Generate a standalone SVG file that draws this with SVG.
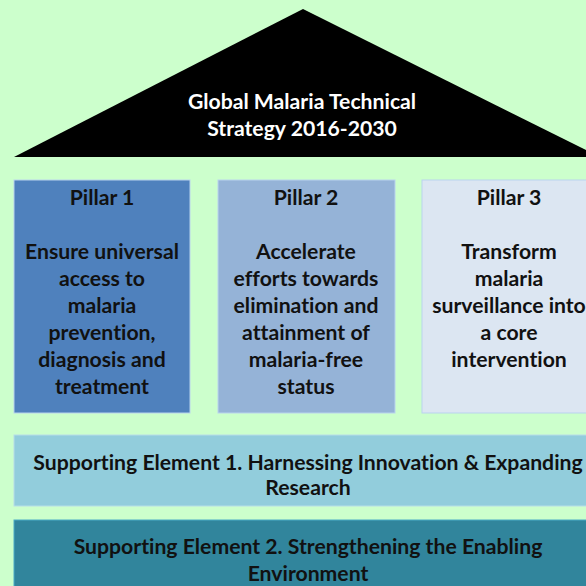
<svg xmlns="http://www.w3.org/2000/svg" width="586" height="586" viewBox="0 0 586 586">
<style>
text{font-family:Lato,"Open Sans","Liberation Sans",sans-serif;font-weight:bold;font-size:21.2px;text-anchor:middle;fill:#111;font-variant-ligatures:none}
.w{fill:#fff}
.box{stroke:#b9d3ee;stroke-width:1}
</style>
<rect width="586" height="586" fill="#ccffcc"/>
<g id="roof">
<polygon points="303,9 14,157 600,157" fill="#000"/>
<text class="w" x="302" y="109">Global Malaria Technical</text>
<text class="w" x="302" y="136">Strategy 2016-2030</text>
</g>
<g id="pillar1">
<rect class="box" x="14" y="180" width="176" height="233" fill="#4f81bd"/>
<text x="102" y="205">Pillar 1</text>
<text x="102" y="259">Ensure universal</text>
<text x="102" y="286">access to</text>
<text x="102" y="313">malaria</text>
<text x="102" y="340">prevention,</text>
<text x="102" y="367">diagnosis and</text>
<text x="102" y="394">treatment</text>
</g>
<g id="pillar2">
<rect class="box" x="218" y="180" width="177" height="233" fill="#95b3d7"/>
<text x="306" y="205">Pillar 2</text>
<text x="306" y="259">Accelerate</text>
<text x="306" y="286">efforts towards</text>
<text x="306" y="313">elimination and</text>
<text x="306" y="340">attainment of</text>
<text x="306" y="367">malaria-free</text>
<text x="306" y="394">status</text>
</g>
<g id="pillar3">
<rect class="box" x="422" y="180" width="180" height="233" fill="#dce6f2"/>
<text x="509" y="205">Pillar 3</text>
<text x="509" y="259">Transform</text>
<text x="509" y="286">malaria</text>
<text x="509" y="313">surveillance into</text>
<text x="509" y="340">a core</text>
<text x="509" y="367">intervention</text>
</g>
<g id="support1">
<rect x="14" y="435" width="590" height="71" fill="#92cddc" stroke="#b7dee8" stroke-width="1"/>
<text x="308" y="470">Supporting Element 1. Harnessing Innovation &amp; Expanding</text>
<text x="308" y="495">Research</text>
</g>
<g id="support2">
<rect x="14" y="520" width="590" height="80" fill="#31859c" stroke="#4bacc6" stroke-width="1"/>
<text x="308" y="554">Supporting Element 2. Strengthening the Enabling</text>
<text x="308" y="581">Environment</text>
</g>
<g id="connectors"/>
</svg>
